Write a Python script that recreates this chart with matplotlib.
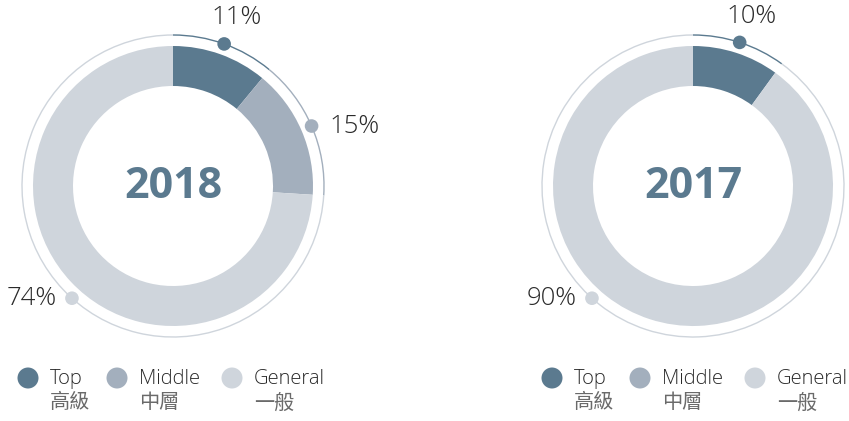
import numpy as np
import matplotlib
matplotlib.use('Agg')
import matplotlib.pyplot as plt
from matplotlib.patches import Circle

plt.rcParams['font.family'] = ['Open Sans', 'Noto Sans CJK TC', 'DejaVu Sans']

# Data
years = ['2018', '2017']
shares_2018 = [11, 15, 74]
shares_2017 = [10, 0, 90]
labels_en = ['Top', 'Middle', 'General']
labels_zh = ['高級', '中層', '一般']
colors = ['#5b7a8f', '#a3afbd', '#cfd5dc']

W, H = 849, 421
fig = plt.figure(figsize=(W / 100, H / 100), dpi=100)
ax = fig.add_axes([0, 0, 1, 1])

# layout (pixel coords, y measured from top)
centers = [(173, 186), (693, 186)]
legend_x = [[28, 117, 232], [552, 640, 755]]
r_out, ring_w, r_line = 140, 40, 151
general_angle = -132  # where the General marker sits


def draw_donut(vals, cx, cy, year, lx):
    cy = H - cy
    ax.pie(vals, center=(cx, cy), radius=r_out, startangle=90, counterclock=False,
           colors=colors, wedgeprops=dict(width=ring_w, linewidth=0))
    ax.pie(vals, center=(cx, cy), radius=r_line + 0.7, startangle=90, counterclock=False,
           colors=colors, wedgeprops=dict(width=1.4, linewidth=0))
    ax.text(cx, cy, year, ha='center', va='center', fontsize=31, fontweight='bold',
            color='#5b7a8f')

    # markers and labels
    start = 90.0
    total = float(sum(vals))
    for i, v in enumerate(vals):
        span = 360.0 * v / total
        mid = start - span / 2
        start -= span
        if v == 0:
            continue
        ang = general_angle if i == 2 else mid
        px = cx + r_line * np.cos(np.radians(ang))
        py = cy + r_line * np.sin(np.radians(ang))
        ax.add_patch(Circle((px, py), 6.8, color=colors[i], zorder=5, linewidth=0))
        txt = f'{v}%'
        kw = dict(va='center', fontsize=18.5, color='#2a2a2a', fontweight='light')
        if i == 0:
            ax.text(px + 12, py + 26, txt, ha='center', **kw)
        elif i == 1:
            ax.text(px + 18, py, txt, ha='left', **kw)
        else:
            ax.text(px - 15, py, txt, ha='right', **kw)

    # legend
    for i in range(3):
        x = lx[i]
        ax.add_patch(Circle((x, H - 378), 10.5, color=colors[i], linewidth=0))
        ax.text(x + 22, H - 379, labels_en[i], ha='left', va='center', fontsize=14.5,
                color='#2a2a2a', fontweight='light')
        ax.text(x + 22, H - 403, labels_zh[i], ha='left', va='center', fontsize=14.5,
                color='#6a6a6a', fontweight='light', family=['Noto Sans CJK TC'])


draw_donut(shares_2018, *centers[0], years[0], legend_x[0])
draw_donut(shares_2017, *centers[1], years[1], legend_x[1])

ax.set_xlim(0, W)
ax.set_ylim(0, H)
ax.set_aspect('auto')
ax.axis('off')

fig.savefig('out.png', dpi=100, facecolor='white')
